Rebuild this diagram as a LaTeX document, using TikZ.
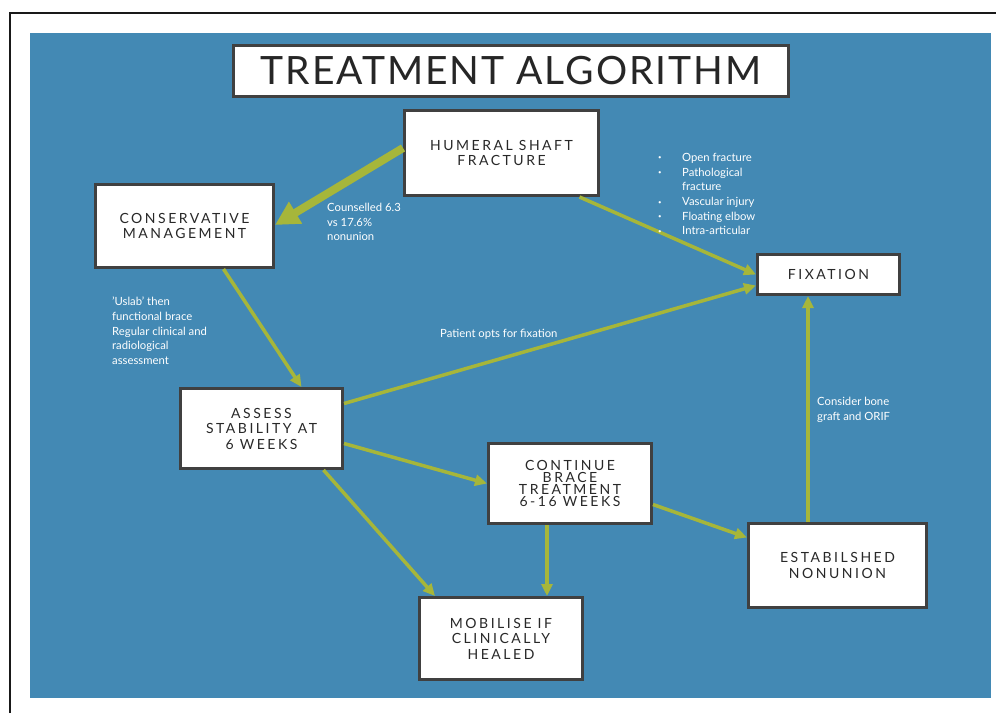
\documentclass[tikz,border=0pt]{standalone}
\usepackage{fontspec}
\setmainfont{Lato}
\newfontfamily\boxfont[LetterSpace=18]{Lato}
\newfontfamily\titlefont[LetterSpace=5]{Lato}
\usepackage{xcolor}
\usetikzlibrary{calc}
\usetikzlibrary{arrows.meta}
\definecolor{bgblue}{RGB}{67,137,180}
\definecolor{arrowgreen}{RGB}{166,182,58}
\definecolor{boxgray}{RGB}{64,64,64}
\definecolor{textdark}{RGB}{40,40,40}
\tikzset{>={Triangle[length=12pt,width=11pt]}}
\tikzstyle{box} = [draw=boxgray, line width=3pt, fill=white, align=center, text=textdark, inner sep=0pt, font=\boxfont\fontsize{14}{15.5}\selectfont]
\tikzstyle{arrow} = [color=arrowgreen, line width=3.5pt, ->]
\tikzstyle{note} = [text=white, align=left, inner sep=0pt, font=\fontsize{11.3}{14.7}\selectfont]
\newcommand{\dotitem}{\makebox[24pt][l]{\raisebox{1.5pt}{\fontsize{6}{6}\selectfont\textbullet}}}

\begin{document}
\begin{tikzpicture}[x=1pt,y=-1pt]
            \useasboundingbox (0,0) rectangle (996,713);
            % Draw the page frame and the blue slide
            \fill[white] (0,0) rectangle (996,713);
            \draw[line width=2pt, black!90] (10,713) -- (10,12.5) -- (996,12.5);
            \fill[bgblue] (30,33) rectangle (990.5,697.5);

            % Boxes
            \node[box, minimum width=555pt, minimum height=51pt, text=black!85, font=\titlefont\fontsize{39}{40}\selectfont] (title) at (511,71) {TREATMENT ALGORITHM};
            \node[box, minimum width=194pt, minimum height=85pt] (hum) at (501.5,153) {HUMERAL SHAFT\\FRACTURE};
            \node[box, minimum width=178pt, minimum height=83pt] (cons) at (184.5,226) {CONSERVATIVE\\MANAGEMENT};
            \node[box, minimum width=142pt, minimum height=40pt] (fix) at (828.5,274.5) {FIXATION};
            \node[box, minimum width=162pt, minimum height=80pt] (assess) at (261.5,428.5) {ASSESS\\STABILITY AT\\6 WEEKS};
            \node[box, minimum width=163pt, minimum height=80pt, font=\boxfont\fontsize{14}{12.3}\selectfont] (cont) at (570,483.5) {CONTINUE\\BRACE\\TREATMENT\\6-16 WEEKS};
            \node[box, minimum width=163pt, minimum height=82pt] (mob) at (501,638.5) {MOBILISE IF\\CLINICALLY\\HEALED};
            \node[box, minimum width=178pt, minimum height=84pt] (non) at (837.5,565.5) {ESTABILSHED\\NONUNION};

            % Arrows
            \draw[arrow, line width=8pt, -{Triangle[length=24pt,width=24pt]}] ([yshift=5pt]hum.west) -- ([yshift=1pt]cons.east);
            \draw[arrow] ([xshift=39pt]cons.south) -- ([xshift=40pt]assess.north);
            \draw[arrow] ([xshift=78pt]hum.south) -- (fix.west);
            \draw[arrow] ([yshift=25pt]assess.east) -- ([yshift=-11pt]fix.west);
            \draw[arrow] ([yshift=-15pt]assess.east) -- (cont.west);
            \draw[arrow] ([xshift=62pt]assess.south) -- ([xshift=-66pt]mob.north);
            \draw[arrow] ([xshift=-23pt]cont.south) -- ([xshift=-23pt]cont.south |- mob.north);
            \draw[arrow] ([yshift=-21pt]cont.east) -- ([yshift=28pt]non.west);
            \draw[arrow] ([xshift=-29.5pt]non.north) -- ([xshift=-29.5pt]non.north |- fix.south);

            % Notes
            \node[note, anchor=north west] (counsel) at (327,203) {Counselled 6.3\\vs 17.6\%\\nonunion};
            \node[note, anchor=north west] (uslab) at (112,297) {'Uslab' then\\functional brace\\Regular clinical and\\radiological\\assessment};
            \node[note, anchor=base west] (opts) at (440,337) {Patient opts for fixation};
            \node[note, anchor=north west] (indic) at (658,153) {\dotitem Open fracture\\\dotitem Pathological\\\hspace*{24pt}fracture\\\dotitem Vascular injury\\\dotitem Floating elbow\\\dotitem Intra-articular};
            \node[note, anchor=north west] (graft) at (817,397) {Consider bone\\graft and ORIF};

        \end{tikzpicture}
\end{document}
